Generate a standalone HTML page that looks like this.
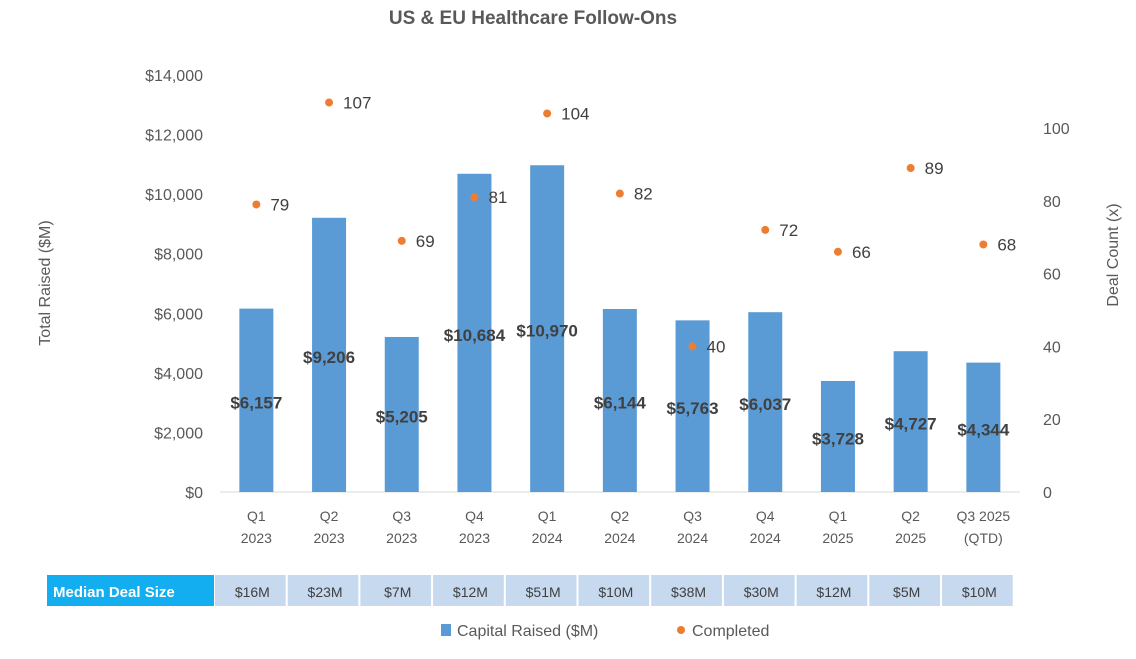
<!DOCTYPE html>
<html><head><meta charset="utf-8"><style>
body{margin:0;background:#fff;width:1136px;height:654px;overflow:hidden}
svg text{font-family:"Liberation Sans",sans-serif}
</style></head><body>
<svg id="c" width="1136" height="654"></svg>
<script>
const categories=[["Q1","2023"],["Q2","2023"],["Q3","2023"],["Q4","2023"],["Q1","2024"],["Q2","2024"],["Q3","2024"],["Q4","2024"],["Q1","2025"],["Q2","2025"],["Q3 2025","(QTD)"]];
const capitalRaised=[6157,9206,5205,10684,10970,6144,5763,6037,3728,4727,4344];
const dealCount=[79,107,69,81,104,82,40,72,66,89,68];
const medianDeal=["$16M","$23M","$7M","$12M","$51M","$10M","$38M","$30M","$12M","$5M","$10M"];
const leftTicks=[0,2000,4000,6000,8000,10000,12000,14000];
const rightTicks=[0,20,40,60,80,100];

const S="http://www.w3.org/2000/svg",svg=document.getElementById('c');
function el(t,a,txt){const e=document.createElementNS(S,t);for(const k in a)e.setAttribute(k,a[k]);if(txt!=null)e.textContent=txt;svg.appendChild(e);return e;}
const x0=220,step=72.7,base=492;
const xc=i=>x0+step*(i+0.5);
const yL=v=>base-v*(417/14000);
const yR=v=>base-v*3.64;
const fmt=v=>"$"+v.toLocaleString("en-US");

let t=el('text',{x:533,y:24,'text-anchor':'middle','font-size':19,'font-weight':'bold',fill:'#595959'},'US & EU Healthcare Follow-Ons');

let a=el('line',{x1:x0,y1:base,x2:x0+step*11,y2:base,stroke:'#d9d9d9'});

leftTicks.forEach(v=>{const e=el('text',{x:203,y:yL(v)+6,'text-anchor':'end','font-size':16,fill:'#595959'},fmt(v));
});
rightTicks.forEach(v=>{const e=el('text',{x:1043,y:yR(v)+6,'font-size':16,fill:'#595959'},v);
});
t=el('text',{transform:'translate(50,283) rotate(-90)','text-anchor':'middle','font-size':16,fill:'#595959'},'Total Raised ($M)');

t=el('text',{transform:'translate(1118,255) rotate(-90)','text-anchor':'middle','font-size':16,fill:'#595959'},'Deal Count (x)');


capitalRaised.forEach((v,i)=>{
 const b=el('rect',{x:xc(i)-17,y:yL(v),width:34,height:base-yL(v),fill:'#5b9bd5'});
 
 const l=el('text',{x:xc(i),y:yL(v/2)+8,'text-anchor':'middle','font-size':17,'font-weight':'bold',fill:'#404040'},fmt(v));
 
 const c=categories[i];
 const c1=el('text',{x:xc(i),y:521,'text-anchor':'middle','font-size':14,fill:'#595959'},c[0]);
 
 const c2=el('text',{x:xc(i),y:543,'text-anchor':'middle','font-size':14,fill:'#595959'},c[1]);
 
});
dealCount.forEach((v,i)=>{
 const d=el('circle',{cx:xc(i),cy:yR(v),r:4,fill:'#ed7d31'});
 
 const l=el('text',{x:xc(i)+14,y:yR(v)+6,'font-size':17,fill:'#404040'},v);
 
});
let r=el('rect',{x:47,y:575,width:167,height:31,fill:'#12aef0'});

t=el('text',{x:53,y:597,'font-size':15,'font-weight':'bold',fill:'#fff'},'Median Deal Size');

medianDeal.forEach((m,i)=>{
 const cell=el('rect',{x:x0+step*i-5,y:575,width:step-2,height:31,fill:'#c6d9ef'});
 
 const tx=el('text',{x:xc(i)-4,y:597,'text-anchor':'middle','font-size':14,fill:'#404040'},m);
 
});
r=el('rect',{x:441,y:624,width:10,height:12,fill:'#5b9bd5'});

t=el('text',{x:457,y:636,'font-size':16,fill:'#595959'},'Capital Raised ($M)');

r=el('circle',{cx:681,cy:630,r:4,fill:'#ed7d31'});

t=el('text',{x:692,y:636,'font-size':16,fill:'#595959'},'Completed');

</script>
</body></html>
